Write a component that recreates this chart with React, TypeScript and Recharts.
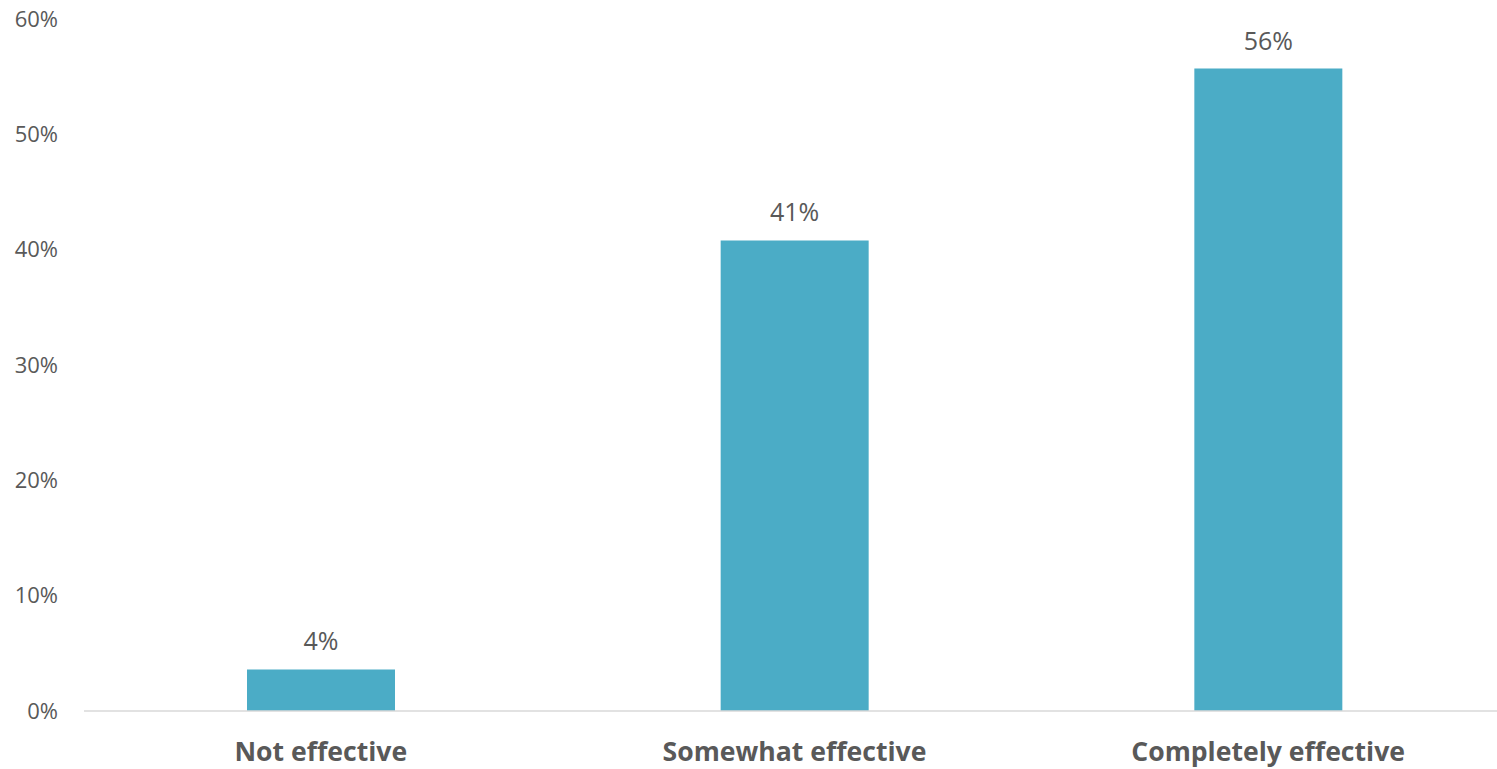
import React from 'react';
import { BarChart, Bar, XAxis, YAxis, LabelList } from 'recharts';

const categories = ['Not effective', 'Somewhat effective', 'Completely effective'];
const shares = [3.6, 40.8, 55.7];
const yTicks = [0, 10, 20, 30, 40, 50, 60];

const data = categories.map((name, i) => ({ name, value: shares[i] }));

const FONT = '"Open Sans", sans-serif';
const GREY = '#595959';

const App: React.FC = () => {
  return (
    <div style={{ position: 'absolute', left: 0, top: 0, width: 1497, height: 769, overflow: 'hidden', background: '#fff' }}>
      <BarChart
        width={1505}
        height={769}
        data={data}
        margin={{ top: 19, right: 0, bottom: 0, left: 0 }}
        style={{ fontFamily: FONT }}
      >
        <XAxis
          dataKey="name"
          height={58}
          axisLine={{ stroke: '#d9d9d9', strokeWidth: 1.5 }}
          tickLine={false}
          tickSize={0}
          tickMargin={31}
          interval={0}
          tick={{ fill: GREY, fontSize: 26.6, fontWeight: 700, fontFamily: FONT }}
        />
        <YAxis
          width={84}
          domain={[0, 60]}
          ticks={yTicks}
          axisLine={false}
          tickLine={false}
          tickSize={0}
          tickMargin={26}
          tickFormatter={(v: number) => `${v}%`}
          tick={{ fill: GREY, fontSize: 22, fontFamily: FONT }}
        />
        <Bar dataKey="value" fill="#4BACC6" barSize={148} isAnimationActive={false}>
          <LabelList
            dataKey="value"
            position="top"
            offset={19}
            formatter={(v: number) => `${Math.round(v)}%`}
            style={{ fill: GREY, fontSize: 25, fontFamily: FONT }}
          />
        </Bar>
      </BarChart>
    </div>
  );
};

export default App;
